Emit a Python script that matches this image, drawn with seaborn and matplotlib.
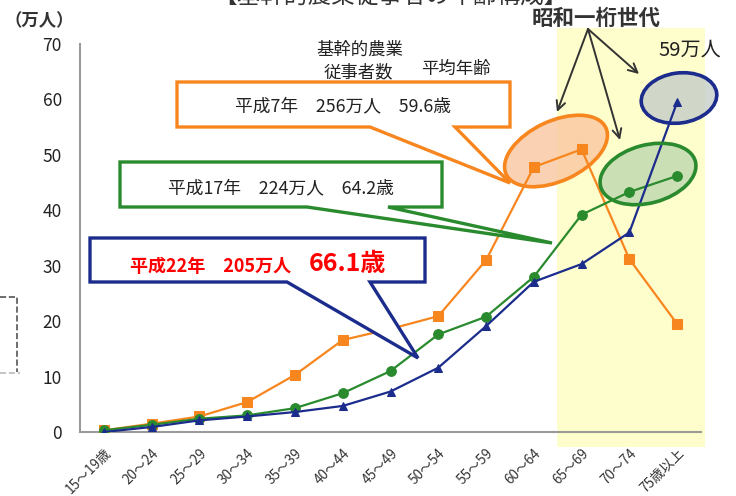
"""
Age structure of core farm workers (H7 / H17 / H22), recreated with seaborn.
"""

import matplotlib
matplotlib.use("Agg")
import matplotlib.pyplot as plt
import matplotlib.transforms as mtransforms
from matplotlib.patches import Ellipse, Polygon, Rectangle
from matplotlib.lines import Line2D
import numpy as np
import pandas as pd
import seaborn as sns

# ---- data (万人) ----
age_groups = ["15～19歳", "20～24", "25～29", "30～34", "35～39", "40～44",
              "45～49", "50～54", "55～59", "60～64", "65～69", "70～74", "75歳以上"]
h7_values = [0.3, 1.5, 2.8, 5.4, 10.3, 16.6, 18.6, 20.9, 31.0, 47.8, 51.0, 31.2, 19.5]
h17_values = [0.3, 1.3, 2.4, 3.0, 4.3, 7.0, 11.0, 17.6, 20.8, 28.0, 39.2, 43.3, 46.2]
h22_values = [0.0, 0.9, 2.1, 2.8, 3.6, 4.7, 7.3, 11.6, 19.1, 27.1, 30.3, 36.0, 59.5]
y_ticks = [0, 10, 20, 30, 40, 50, 60, 70]

ORANGE = "#F7861F"
GREEN = "#2A8A2E"
BLUE = "#1B2C8C"
GRAY = "#9A9A9A"
TEXT = "#222222"

W, H = 736, 496

sns.set_theme(style="white")
plt.rcParams["font.family"] = ["Noto Sans CJK JP", "DejaVu Sans"]

fig = plt.figure(figsize=(W / 100, H / 100), dpi=100)
ax = fig.add_axes([80 / W, 64 / H, 621 / W, 388 / H])
ax.set_facecolor("none")

# image-pixel coordinates (origin top-left) for the decorations
pix = mtransforms.Affine2D().scale(1, -1).translate(0, H)

# highlighted band for the 昭和一桁 generation
ax.add_patch(Rectangle((557, 28), 148, 419, transform=pix, facecolor="#FEFDCC",
                       edgecolor="none", clip_on=False, zorder=0))

pos = np.arange(len(age_groups))
df = pd.DataFrame({"pos": pos, "h7": h7_values, "h17": h17_values, "h22": h22_values})

sns.lineplot(data=df, x="pos", y="h7", ax=ax, color=ORANGE, marker="s", markersize=7,
             markeredgecolor=ORANGE, linewidth=1.6, zorder=3)
sns.lineplot(data=df, x="pos", y="h17", ax=ax, color=GREEN, marker="o", markersize=7,
             markeredgecolor=GREEN, linewidth=1.6, zorder=3)
sns.lineplot(data=df, x="pos", y="h22", ax=ax, color=BLUE, marker="^", markersize=6,
             markeredgecolor=BLUE, linewidth=1.6, zorder=3)

# axes styling
ax.set_xlim(-0.5, len(age_groups) - 0.5)
ax.set_ylim(0, 70)
ax.set_yticks(y_ticks)
ax.set_xticks(pos)
ax.set_xticklabels(age_groups, rotation=45, ha="right", rotation_mode="anchor")
ax.set_xticks(np.arange(-0.5, len(age_groups), 1), minor=True)
ax.tick_params(axis="x", which="major", length=0, pad=10, labelsize=9.8, labelcolor="#333333")
ax.tick_params(axis="x", which="minor", length=5, width=1, color=GRAY, direction="out")
ax.tick_params(axis="y", length=4, width=1, color=GRAY, direction="out", pad=9,
               labelsize=12.5, labelcolor=TEXT)
ax.set_xlabel("")
ax.set_ylabel("")
sns.despine(ax=ax)
for side in ["left", "bottom"]:
    ax.spines[side].set_color(GRAY)
    ax.spines[side].set_linewidth(1.5)

# ---- callout boxes ----
def callout(verts, color):
    ax.add_patch(Polygon(verts, closed=True, facecolor="white", edgecolor=color,
                         linewidth=2.4, joinstyle="miter", transform=pix,
                         clip_on=False, zorder=5))

callout([(177, 82), (510, 82), (510, 127), (455, 127), (510, 183), (370, 127), (177, 127)], ORANGE)
callout([(120, 162), (442, 162), (442, 207), (388, 207), (552, 243), (307, 207), (120, 207)], GREEN)
callout([(90, 238), (425, 238), (425, 282), (370, 282), (418, 358), (287, 282), (90, 282)], BLUE)

ax.text(343, 106, "平成7年　256万人　59.6歳", transform=pix, ha="center", va="center",
        fontsize=12.8, color=TEXT, zorder=6)
ax.text(281, 188, "平成17年　224万人　64.2歳", transform=pix, ha="center", va="center",
        fontsize=12.8, color=TEXT, zorder=6)
ax.text(130, 266, "平成22年　205万人", transform=pix, ha="left", va="center",
        fontsize=13, color="#FF0000", fontweight="bold", zorder=6)
ax.text(309, 264, "66.1歳", transform=pix, ha="left", va="center",
        fontsize=18, color="#FF0000", fontweight="bold", zorder=6)

ax.text(360, 50, "基幹的農業", transform=pix, ha="center", va="center", fontsize=12.5, color=TEXT)
ax.text(358, 72, "従事者数", transform=pix, ha="center", va="center", fontsize=12.5, color=TEXT)
ax.text(456, 69, "平均年齢", transform=pix, ha="center", va="center", fontsize=12.5, color=TEXT)

# ---- ellipses around the 昭和一桁 generation ----
ellipses = [((556, 151), 110, 60, -25, ORANGE, "#F9C7A0"),
            ((648, 174), 98, 58, -15, GREEN, "#BFD8B0"),
            ((679, 98), 76, 50, -8, BLUE, "#C6CEC8")]
for center, ew, eh, ang, edge, fill in ellipses:
    ax.add_patch(Ellipse(center, ew, eh, angle=ang, transform=pix, facecolor=fill,
                         alpha=0.8, edgecolor="none", clip_on=False, zorder=2.5))
    ax.add_patch(Ellipse(center, ew, eh, angle=ang, transform=pix, facecolor="none",
                         edgecolor=edge, linewidth=2.6, clip_on=False, zorder=6))

ax.text(596, 18, "昭和一桁世代", transform=pix, ha="center", va="center",
        fontsize=15.5, fontweight="bold", color="#333333")
ax.text(690, 50, "59万人", transform=pix, ha="center", va="center",
        fontsize=14.5, color=TEXT)

for end in [(557, 112), (620, 140), (639, 74)]:
    ax.annotate("", xy=end, xytext=(588, 29), xycoords=pix, textcoords=pix,
                annotation_clip=False,
                arrowprops=dict(arrowstyle="->", color="#333333", lw=1.4,
                                mutation_scale=16, shrinkA=0, shrinkB=0), zorder=7)

# unit label and clipped header
fig.text(39, 21, "（万人）", transform=pix, ha="center", va="center",
         fontsize=12.5, fontweight="bold", color="#333333")
fig.text(390, -4, "【基幹的農業従事者の年齢構成】", transform=pix, ha="center",
         va="center", fontsize=17, color="#333333")

# dashed frame remnant at the left edge
fig.add_artist(Line2D([0, 17, 17], [297, 297, 372], transform=pix, linestyle="--",
                      color="#555555", linewidth=1.2))
fig.add_artist(Line2D([0, 20], [373, 373], transform=pix, linestyle="--",
                      color="#BBBBBB", linewidth=1.2))

fig.savefig("out.png", dpi=100)
plt.close(fig)
